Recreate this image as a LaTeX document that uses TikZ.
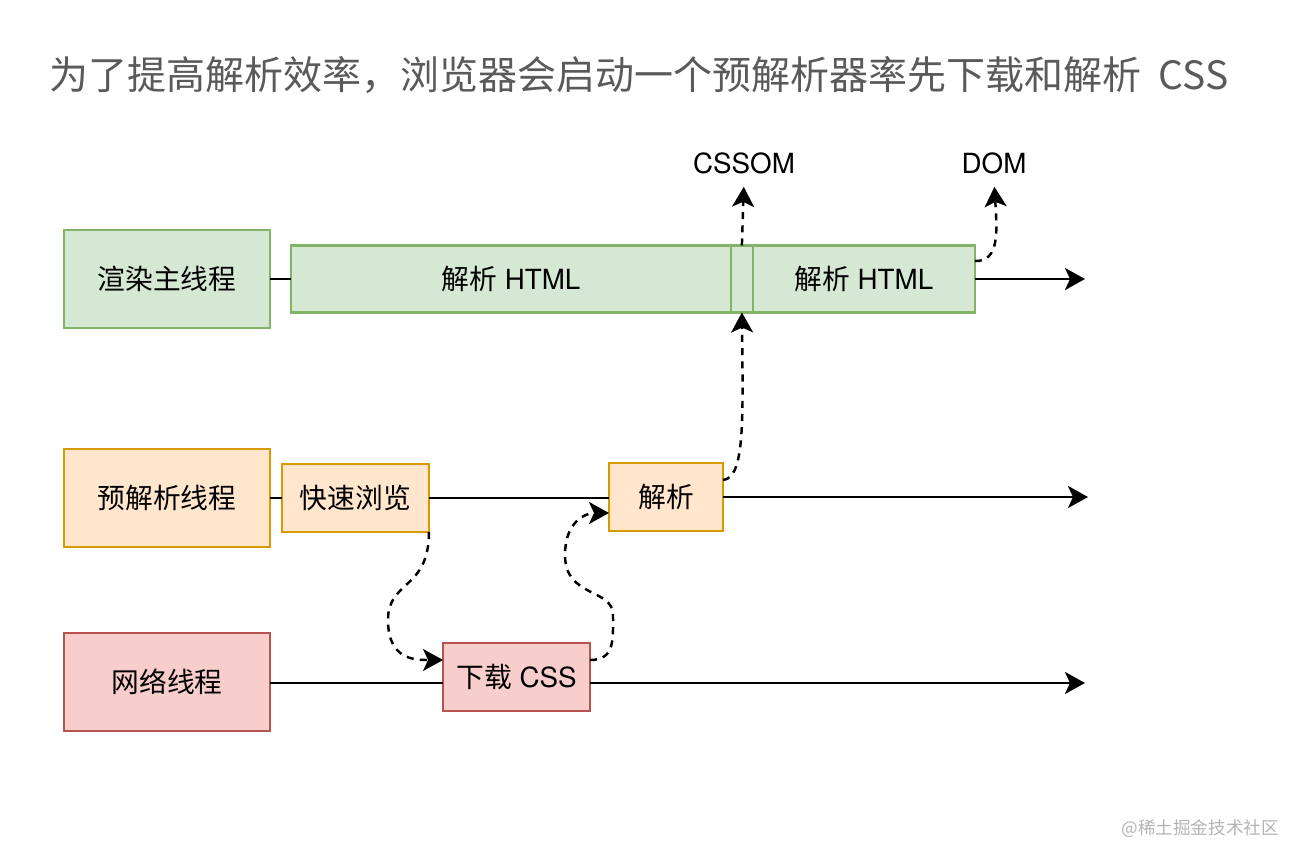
\documentclass[tikz,border=0pt]{standalone}
\usepackage{fontspec}
\setmainfont{TeX Gyre Heros}
\newfontfamily\cjk{Noto Sans CJK SC}
\usepackage{xcolor}
\usetikzlibrary{arrows.meta,positioning}
\definecolor{greenfill}{HTML}{D5E8D4}
\definecolor{greenline}{HTML}{82B366}
\definecolor{orangefill}{HTML}{FFE6CC}
\definecolor{orangeline}{HTML}{D79B00}
\definecolor{redfill}{HTML}{F8CECC}
\definecolor{redline}{HTML}{B85450}
\definecolor{titlegray}{HTML}{5A5A5A}
\definecolor{markgray}{HTML}{B4B4B4}
\newcommand\labelfont{\fontsize{15.8}{19}\selectfont}

\begin{document}
\begin{tikzpicture}[
      x=0.02cm,y=-0.02cm,
      greenbox/.style={
         draw=greenline,
         fill=greenfill,
         line width=1.4pt,
         inner sep=0pt,
         outer sep=0pt,
         font=\labelfont},
      orangebox/.style={
         draw=orangeline,
         fill=orangefill,
         line width=1.4pt,
         inner sep=0pt,
         outer sep=0pt,
         font=\labelfont},
      redbox/.style={
         draw=redline,
         fill=redfill,
         line width=1.4pt,
         inner sep=0pt,
         outer sep=0pt,
         font=\labelfont},
      threadbox/.style={minimum width=4.12cm, minimum height=1.96cm},
      taskbox/.style={minimum width=2.94cm, minimum height=1.36cm},
      myline/.style={line width=1.4pt},
      myarrow/.style={-{Stealth[length=0.4cm,width=0.44cm,inset=0.1cm]}, line width=1.4pt},
      dasharrow/.style={myarrow, dash pattern=on 4pt off 3.5pt}
      ]
      \useasboundingbox (0,0) rectangle (1306,862);

      \node[anchor=west, text=titlegray, font=\cjk\fontsize{22.2}{27}\selectfont] (title) at (43,75)
         {为了提高解析效率，浏览器会启动一个预解析器率先下载和解析\ \ CSS};

      % rows: render main thread
      \node[greenbox,threadbox] (rmain) at (167,279) {\cjk 渲染主线程};
      \node[greenbox,minimum width=8.8cm,minimum height=1.34cm,right=0.42cm of rmain] (html1) {{\cjk 解析} HTML};
      \node[greenbox,minimum width=0.44cm,minimum height=1.34cm,right=0pt of html1] (gap) {};
      \node[greenbox,minimum width=4.44cm,minimum height=1.34cm,right=0pt of gap] (html2) {{\cjk 解析} HTML};

      % preload scanner thread
      \node[orangebox,threadbox] (pre) at (167,498) {\cjk 预解析线程};
      \node[orangebox,taskbox,right=0.24cm of pre] (scan) {\cjk 快速浏览};
      \node[orangebox,minimum width=2.28cm,minimum height=1.36cm] (parse) at (666,497) {\cjk 解析};

      % network thread
      \node[redbox,threadbox] (net) at (167,682) {\cjk 网络线程};
      \node[redbox,taskbox] (dl) at (516.5,677) {{\cjk 下载} CSS};

      \node[font=\labelfont] (cssom) at (744,163) {CSSOM};
      \node[font=\labelfont] (dom) at (994,163) {DOM};
      \node[anchor=east, text=markgray, font=\cjk\fontsize{10}{12}\selectfont] (mark) at (1285,829) {@稀土掘金技术社区};

      \coordinate (e1) at (1085,280);
      \coordinate (e2) at (1088,497);
      \coordinate (e3) at (1085,683);

    \foreach \i/\j in {% from/to
      rmain.east/html1.west,
      pre.east/scan.west}
       \draw [myline] (\i) -- (\j);
    \draw [myline] (scan.east) -- (scan.east -| parse.west);
    \draw [myline] (net.east |- e3) -- (dl.west |- e3);

    \draw [myarrow] (html2.east) -- (html2.east -| e1);
    \draw [myarrow] (parse.east) -- (parse.east -| e2);
    \draw [myarrow] (dl.east |- e3) -- (e3);

     % dashed hand-over between threads
     \draw [dasharrow] (scan.south east) .. controls (429,590) and (388,580) .. (388,620)
        .. controls (388,660) and (415,660) .. ([yshift=0.34cm]dl.west);
     \draw [dasharrow] ([yshift=0.34cm]dl.east) .. controls (615,660) and (613,640) .. (613,615)
        .. controls (613,588) and (565,598) .. (565,555)
        .. controls (565,522) and (585,513) .. ([yshift=-0.32cm]parse.west);
     \draw [dasharrow] ([yshift=0.34cm]parse.east) .. controls (745,478) and (743,420) .. (gap.south);
     \draw [dasharrow,shorten >=0.14cm] (gap.north) -- (cssom.south);
     \draw [dasharrow,shorten >=0.14cm] ([yshift=0.36cm]html2.east) .. controls (1000,262) and (997,230) .. (dom.south);
    \end{tikzpicture}
\end{document}
